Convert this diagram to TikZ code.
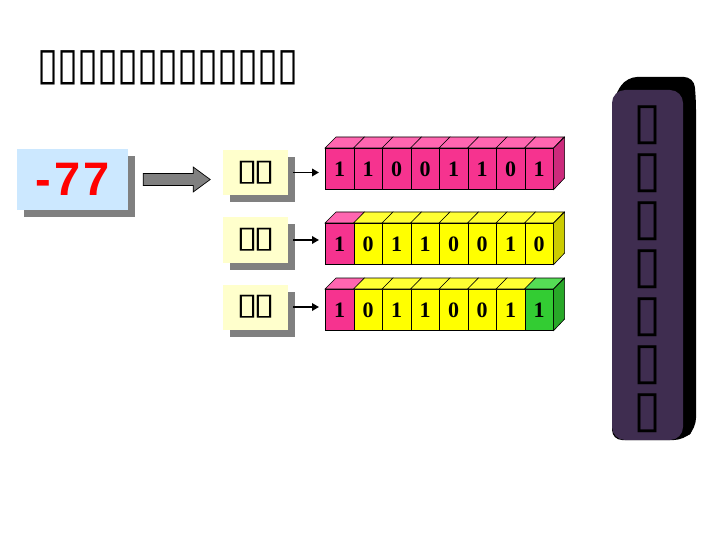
\documentclass[tikz,border=0pt]{standalone}
\usepackage{fontspec}
\usepackage{graphicx}
\setmainfont{Liberation Serif}
\newfontfamily\symfont{DejaVu Sans}
\newfontfamily\numfont{Liberation Sans}
\usetikzlibrary{shadows,arrows.meta,calc}
\definecolor{pkF}{HTML}{F6338F}
\definecolor{pkT}{HTML}{FF66B0}
\definecolor{pkS}{HTML}{CC2A7C}
\definecolor{ylF}{HTML}{FFFF00}
\definecolor{ylT}{HTML}{FFFF33}
\definecolor{ylS}{HTML}{CCCC00}
\definecolor{grF}{HTML}{33CC33}
\definecolor{grT}{HTML}{55DD55}
\definecolor{grS}{HTML}{28A828}
\definecolor{lblue}{HTML}{CCE8FF}
\definecolor{lyel}{HTML}{FFFFCC}
\definecolor{barF}{HTML}{3F2D50}
\definecolor{shgray}{HTML}{808080}
\newcommand\tofuT{\makebox[20pt]{\scalebox{0.85}[1]{\symfont\bfseries\fontsize{45}{45}\selectfont ▯}}}
\newcommand\tofuL{\makebox[17pt]{\scalebox{1.3}[1]{\symfont\bfseries\fontsize{30}{30}\selectfont ▯}}}
\newcommand\tofuV{\symfont\bfseries\fontsize{51}{48}\selectfont ▯}
\tikzset{
  cell/.style={draw=black, line width=0.6pt, minimum width=28.5pt, minimum height=41pt,
    inner sep=0pt, anchor=north west, font=\fontsize{22}{22}\selectfont\bfseries},
  face/.style={draw=black, line width=0.6pt},
  shbox/.style={inner sep=0pt, drop shadow={shadow xshift=7pt, shadow yshift=-7pt, fill=shgray, opacity=1}},
  labbox/.style={shbox, fill=lyel, minimum width=65pt, minimum height=45pt},
  link/.style={line width=1.8pt, -{Triangle[length=7pt,width=7.5pt]}, shorten <=5pt, shorten >=6pt},
  bigarrow/.style={draw=black, line width=0.7pt, fill=shgray},
}
\begin{document}
\begin{tikzpicture}[x=1pt,y=-1pt]
\useasboundingbox (0,0) rectangle (720,540);
% title
\node[anchor=west, inner sep=0pt] (title) at (38,68)
  {\tofuT\tofuT\tofuT\tofuT\tofuT\tofuT\tofuT\tofuT\tofuT\tofuT\tofuT\tofuT\tofuT};
% -77 box
\node[shbox, fill=lblue, minimum width=111pt, minimum height=61pt,
  font=\numfont\bfseries\fontsize{47}{47}\selectfont, text=red] (m77) at (72.5,179.5) {-\kern4pt7\kern3pt7};
% labels
\node[labbox] (lab1) at (255.5,172.5) {\tofuL\tofuL};
\node[labbox] (lab2) at (255.5,240) {\tofuL\tofuL};
\node[labbox] (lab3) at (255.5,307) {\tofuL\tofuL};
% big arrow from -77 to first label
\draw[bigarrow] ($(m77.east)+(15,-6)$) -- ++(50,0) -- ++(0,-6.5) -- ++(17,12.5)
  -- ++(-17,12.5) -- ++(0,-6.5) -- ++(-50,0) -- cycle;
% row 1
\foreach \d [count=\i from 0] in {1,1,0,0,1,1,0,1}{
  \node[cell, fill=pkF] (r1c\i) at ({325+28.5*\i},148) {\d};
  \draw[face, fill=pkT] (r1c\i.north west) -- ++(11,-11) -- ++(28.5,0) -- (r1c\i.north east) -- cycle;
}
\draw[face, fill=pkS] (r1c7.north east) -- ++(11,-11) -- ++(0,41) -- (r1c7.south east) -- cycle;
% row 2
\foreach \d/\cf/\ct [count=\i from 0] in {1/pkF/pkT,0/ylF/ylT,1/ylF/ylT,1/ylF/ylT,0/ylF/ylT,0/ylF/ylT,1/ylF/ylT,0/ylF/ylT}{
  \node[cell, fill=\cf] (r2c\i) at ({325+28.5*\i},223) {\d};
  \draw[face, fill=\ct] (r2c\i.north west) -- ++(11,-11) -- ++(28.5,0) -- (r2c\i.north east) -- cycle;
}
\draw[face, fill=ylS] (r2c7.north east) -- ++(11,-11) -- ++(0,41) -- (r2c7.south east) -- cycle;
% row 3
\foreach \d/\cf/\ct [count=\i from 0] in {1/pkF/pkT,0/ylF/ylT,1/ylF/ylT,1/ylF/ylT,0/ylF/ylT,0/ylF/ylT,1/ylF/ylT,1/grF/grT}{
  \node[cell, fill=\cf] (r3c\i) at ({325+28.5*\i},289) {\d};
  \draw[face, fill=\ct] (r3c\i.north west) -- ++(11,-11) -- ++(28.5,0) -- (r3c\i.north east) -- cycle;
}
\draw[face, fill=grS] (r3c7.north east) -- ++(11,-11) -- ++(0,41) -- (r3c7.south east) -- cycle;
% links
\draw[link] (lab1.east) -- (lab1.east -| r1c0.west);
\draw[link] (lab2.east) -- (lab2.east -| r2c0.west);
\draw[link] (lab3.east) -- (lab3.east -| r3c0.west);
% vertical bar
\fill[black, rounded corners=10pt] (614,96) -- (627,77) -- (694,77) -- (696,100) -- (696,428) -- (684,440) -- (612,440) -- cycle;
\fill[barF, rounded corners=13pt] (612,90) rectangle (683,440);
\node[inner sep=0pt, align=center, font=\symfont\bfseries\fontsize{51}{48}\selectfont] (vtext) at (648,269)
  {\tofuV\\\tofuV\\\tofuV\\\tofuV\\\tofuV\\\tofuV\\\tofuV};
\end{tikzpicture}
\end{document}
